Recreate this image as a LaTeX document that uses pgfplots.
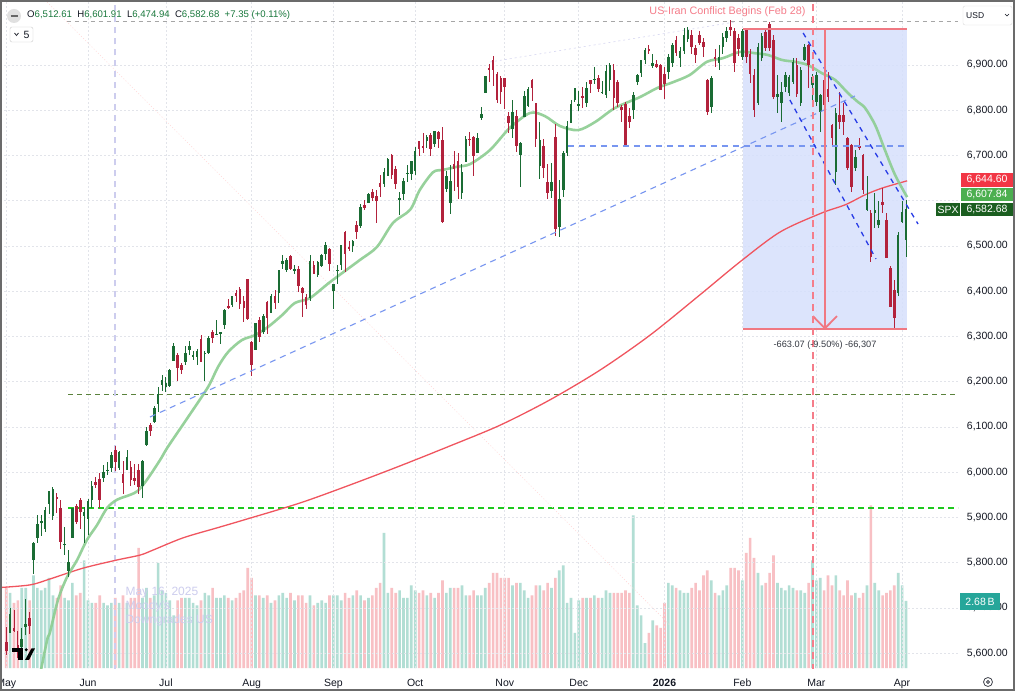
\documentclass[border=0pt]{standalone}
\usepackage{pgfplots}
\pgfplotsset{compat=1.18}
\usepackage{pgfplotstable}
\usepackage{fontspec}
\setmainfont{Liberation Sans}
\definecolor{cg}{RGB}{26,108,52}
\definecolor{cr}{RGB}{178,34,60}
\definecolor{volg}{RGB}{178,222,212}
\definecolor{volr}{RGB}{248,192,196}
\definecolor{tvtext}{RGB}{19,23,34}
\definecolor{gridc}{RGB}{226,228,234}
\definecolor{smag}{RGB}{140,205,145}
\definecolor{smar}{RGB}{240,85,95}
\definecolor{boxfill}{RGB}{214,224,252}
\definecolor{salmon}{RGB}{240,120,130}
\definecolor{lblue}{RGB}{120,150,240}
\definecolor{dblue}{RGB}{40,60,230}
\definecolor{olive}{RGB}{90,130,60}
\definecolor{bgreen}{RGB}{30,200,30}
\definecolor{lav}{RGB}{205,205,238}
\definecolor{hdrg}{RGB}{25,120,60}
\definecolor{tagred}{RGB}{242,54,69}
\definecolor{taggreen}{RGB}{76,175,80}
\definecolor{tagdark}{RGB}{27,94,32}
\definecolor{tagteal}{RGB}{38,166,154}
\definecolor{annred}{RGB}{245,125,138}

\pgfplotstableread{
i o h l c v
-21 5625 5659 5597 5604 3.2
-20 5645 5700 5645 5686 3.0
-19 5656 5695 5648 5650 2.6
-18 5618 5649 5590 5607 2.7
-17 5613 5655 5588 5631 3.2
-16 5657 5721 5640 5664 3.2
-15 5679 5691 5642 5660 2.7
-14 5807 5845 5776 5844 3.7
-13 5854 5906 5844 5886 3.2
-12 5888 5906 5860 5892 3.1
-11 5874 5924 5867 5916 3.2
-10 5929 5958 5907 5958 3.6
-9 5903 5968 5895 5963 2.9
-8 5945 5954 5909 5940 2.8
-7 5920 5939 5830 5845 3.3
-6 5841 5878 5817 5842 2.8
-5 5781 5829 5768 5802 2.7
-4 5855 5922 5855 5922 3.4
-3 5925 5930 5886 5889 2.9
-2 5939 5944 5874 5912 3.0
-1 5904 5923 5843 5912 4.3
0 5897 5940 5861 5936 2.7
1 5939 5981 5921 5970 2.6
2 5978 5990 5966 5971 2.6
3 5985 5999 5921 5939 2.9
4 5987 6017 5978 6000 2.6
5 6004 6022 5994 6006 2.5
6 6010 6044 6000 6038 2.6
7 6050 6059 6003 6022 2.8
8 6009 6046 6004 6045 2.6
9 5997 6026 5953 5977 2.9
10 6005 6050 6005 6033 2.6
11 6012 6024 5970 5982 2.8
12 5987 6018 5971 5981 2.8
13 6004 6019 5952 5967 4.8
14 5969 6028 5943 6025 2.8
15 6061 6101 6058 6092 3.2
16 6104 6108 6081 6092 2.8
17 6112 6146 6108 6141 2.9
18 6151 6188 6133 6173 4.2
19 6193 6215 6180 6205 3.1
20 6188 6210 6178 6198 3.0
21 6191 6228 6189 6227 2.7
22 6246 6285 6245 6279 2.1
23 6260 6263 6201 6230 2.7
24 6238 6242 6217 6226 2.8
25 6243 6280 6237 6263 2.8
26 6271 6290 6260 6280 2.8
27 6255 6269 6248 6259 2.6
28 6255 6273 6238 6269 2.5
29 6295 6303 6243 6244 2.7
30 6262 6268 6201 6264 3.0
31 6264 6301 6262 6297 2.9
32 6310 6315 6286 6297 3.2
33 6304 6336 6303 6305 2.8
34 6306 6310 6283 6309 2.8
35 6326 6360 6317 6359 2.9
36 6368 6382 6360 6363 2.8
37 6370 6390 6365 6389 2.7
38 6397 6402 6376 6390 2.8
39 6404 6410 6361 6371 3.0
40 6378 6390 6332 6362 3.1
41 6427 6427 6337 6339 4.0
42 6288 6291 6212 6238 3.6
43 6271 6330 6271 6330 2.9
44 6337 6343 6289 6299 2.9
45 6309 6349 6306 6345 2.8
46 6376 6379 6306 6340 2.9
47 6353 6395 6353 6389 2.6
48 6389 6402 6360 6374 2.7
49 6397 6446 6375 6446 2.9
50 6461 6480 6450 6466 3.0
51 6448 6474 6442 6469 2.8
52 6478 6481 6446 6450 3.0
53 6445 6457 6439 6449 2.7
54 6449 6456 6398 6411 2.9
55 6407 6409 6343 6396 2.9
56 6387 6394 6361 6370 2.6
57 6386 6481 6378 6467 2.9
58 6457 6466 6438 6439 2.5
59 6435 6467 6431 6465 2.6
60 6456 6483 6453 6481 2.7
61 6483 6508 6469 6502 2.6
62 6494 6495 6445 6460 2.9
63 6401 6416 6360 6416 2.9
64 6444 6458 6417 6448 2.9
65 6457 6502 6446 6502 2.7
66 6531 6533 6443 6482 3.0
67 6498 6512 6489 6495 2.8
68 6500 6513 6486 6512 2.9
69 6547 6555 6515 6532 3.1
70 6544 6592 6540 6587 2.9
71 6590 6601 6580 6584 2.7
72 6596 6617 6596 6615 2.8
73 6620 6626 6600 6606 2.9
74 6611 6624 6551 6600 3.2
75 6640 6656 6609 6631 3.4
76 6637 6672 6630 6664 5.4
77 6655 6694 6655 6693 3.0
78 6701 6703 6647 6657 3.2
79 6670 6676 6626 6637 3.0
80 6605 6620 6569 6605 3.1
81 6615 6650 6602 6644 2.8
82 6661 6679 6641 6661 2.8
83 6658 6689 6645 6688 3.3
84 6665 6718 6656 6711 3.1
85 6732 6733 6699 6715 3.0
86 6722 6750 6706 6716 3.1
87 6733 6745 6716 6740 2.9
88 6746 6749 6700 6714 3.0
89 6725 6755 6719 6754 2.8
90 6752 6754 6717 6736 3.0
91 6735 6764 6551 6553 3.5
92 6626 6665 6620 6654 3.0
93 6594 6679 6570 6644 3.2
94 6682 6711 6621 6671 3.2
95 6687 6706 6604 6630 3.2
96 6617 6682 6604 6664 3.3
97 6685 6744 6685 6736 2.9
98 6736 6752 6722 6735 2.9
99 6740 6742 6654 6699 3.1
100 6705 6750 6705 6738 2.9
101 6784 6807 6778 6792 2.9
102 6839 6876 6839 6875 3.2
103 6893 6902 6863 6891 3.4
104 6910 6920 6854 6890 3.8
105 6880 6884 6817 6822 3.8
106 6871 6876 6814 6840 3.6
107 6871 6872 6803 6852 3.6
108 6788 6797 6750 6771 3.6
109 6759 6822 6739 6796 3.3
110 6787 6800 6708 6720 3.4
111 6701 6730 6631 6728 3.4
112 6786 6842 6786 6832 3.1
113 6809 6852 6808 6846 2.8
114 6866 6870 6821 6850 2.9
115 6815 6816 6718 6737 3.3
116 6676 6775 6647 6734 3.3
117 6722 6737 6650 6672 3.1
118 6641 6681 6604 6617 3.4
119 6622 6683 6607 6642 3.2
120 6741 6770 6522 6538 3.6
121 6541 6647 6521 6603 3.9
122 6623 6709 6608 6705 4.1
123 6706 6777 6699 6766 2.6
124 6771 6823 6771 6813 2.8
125 6823 6849 6819 6849 1.4
126 6812 6843 6799 6813 2.7
127 6830 6851 6806 6829 2.8
128 6815 6862 6808 6850 2.8
129 6866 6867 6838 6857 2.8
130 6866 6895 6858 6870 2.9
131 6871 6878 6841 6846 2.8
132 6840 6864 6836 6840 2.8
133 6834 6899 6827 6887 3.1
134 6866 6905 6842 6901 3.0
135 6889 6902 6801 6827 3.0
136 6862 6866 6808 6816 3.0
137 6807 6812 6775 6800 3.0
138 6814 6819 6720 6721 3.1
139 6788 6805 6760 6775 3.0
140 6801 6840 6781 6834 6.1
141 6863 6880 6855 6878 2.5
142 6883 6911 6874 6910 2.1
143 6910 6937 6902 6932 1.0
144 6935 6945 6925 6930 1.4
145 6898 6925 6893 6905 1.9
146 6903 6912 6894 6896 1.7
147 6901 6903 6845 6845 1.6
148 6880 6895 6825 6858 2.6
149 6885 6925 6870 6918 3.4
150 6905 6948 6895 6944 3.3
151 6955 6965 6920 6926 3.2
152 6915 6940 6895 6932 3.1
153 6930 6982 6925 6966 3.0
154 6958 6985 6950 6977 3.0
155 6966 6978 6925 6940 3.2
156 6937 6945 6905 6922 3.4
157 6966 6975 6945 6948 3.1
158 6950 6960 6918 6940 3.7
159 6867 6870 6789 6797 3.9
160 6808 6875 6795 6871 3.5
161 6918 6935 6895 6913 3.0
162 6905 6945 6890 6918 2.9
163 6940 6970 6925 6963 3.1
164 6959 6985 6950 6975 3.3
165 6985 7000 6965 6978 4.0
166 6975 6982 6885 6905 4.0
167 6960 6968 6920 6935 3.9
168 6918 6979 6910 6975 3.5
169 6978 6980 6905 6918 4.6
170 6925 6935 6860 6880 5.2
171 6878 6890 6785 6800 4.4
172 6815 6948 6812 6940 3.8
173 6915 6970 6908 6963 3.3
174 6974 6982 6930 6937 3.4
175 6990 6995 6930 6937 3.8
176 6955 6967 6825 6830 4.5
177 6830 6878 6794 6836 3.4
178 6815 6863 6775 6841 3.2
179 6852 6885 6840 6878 3.1
180 6837 6878 6832 6874 3.3
181 6863 6915 6858 6907 3.2
182 6900 6915 6830 6837 3.1
183 6815 6895 6810 6889 3.1
184 6911 6946 6908 6940 3.0
185 6944 6946 6850 6900 3.4
186 6856 6880 6815 6874 4.3
187 6819 6885 6810 6878 3.5
188 6797 6836 6753 6834 3.6
189 6867 6870 6810 6812 3.1
190 6848 6885 6818 6830 3.7
191 6767 6770 6720 6738 3.3
192 6664 6806 6634 6793 3.7
193 6789 6840 6759 6775 3.1
194 6789 6815 6745 6775 2.9
195 6738 6740 6668 6672 3.5
196 6723 6725 6620 6631 2.9
197 6672 6712 6665 6697 3.0
198 6720 6738 6712 6718 2.8
199 6701 6703 6615 6624 3.0
200 6580 6655 6578 6605 3.3
201 6572 6579 6465 6476 6.5
202 6573 6617 6540 6580 3.4
203 6546 6600 6540 6557 3.1
204 6598 6628 6572 6590 2.9
205 6557 6572 6473 6473 3.0
206 6451 6455 6366 6366 3.1
207 6403 6426 6318 6340 3.3
208 6395 6530 6390 6524 3.8
209 6554 6600 6550 6575.33 3.3
210 6512.61 6601.91 6474.94 6582.68 2.68
}\spx

\newcommand{\tvfont}{\fontsize{10.5}{12}\selectfont}

\pgfplotsset{
  candle/.style n args={2}{only marks, mark=*, mark size=0pt,
    mark options={draw opacity=0, fill opacity=0},
    /pgfplots/error bars/y dir=both,
    /pgfplots/error bars/y explicit,
    /pgfplots/error bars/error mark=none,
    /pgfplots/error bars/error bar style={draw=#1, line width=#2, solid, draw opacity=1}},
}

\begin{document}
\begin{tikzpicture}[x=1pt,y=1pt]
\useasboundingbox (0,0) rectangle (1015,691);
\fill[white] (0,0) rectangle (1015,691);

% ---------------- volume axis
\begin{axis}[at={(0pt,23pt)}, anchor=south west, scale only axis,
  width=958pt, height=668pt,
  xmin=-22.593, xmax=223.36, ymin=0, ymax=26.72, hide axis]
\addplot[ybar, bar width=0.68, bar shift=0pt, fill=volg, draw=none,
  restrict expr to domain={\thisrow{c}-\thisrow{o}}{0:100000}]
  table[x=i, y=v] {\spx};
\addplot[ybar, bar width=0.68, bar shift=0pt, fill=volr, draw=none,
  restrict expr to domain={\thisrow{c}-\thisrow{o}}{-100000:-0.001}]
  table[x=i, y=v] {\spx};
\end{axis}

% ---------------- price axis
\begin{axis}[at={(0pt,23pt)}, anchor=south west, scale only axis,
  width=958pt, height=668pt,
  xmin=-22.593, xmax=223.36, ymin=5567.4, ymax=7043.6,
  axis line style={draw=none}, tick style={draw=none}, major tick length=0pt,
  ytick={5600,5700,...,6900},
  yticklabels={{5,600.00},{5,700.00},{5,800.00},{5,900.00},{6,000.00},{6,100.00},{6,200.00},{6,300.00},{6,400.00},{6,500.00},{},{6,700.00},{6,800.00},{6,900.00}},
  yticklabel pos=right,
  yticklabel style={anchor=east, xshift=50pt, inner sep=0pt, font=\tvfont, text=tvtext},
  xtick={-21,0,20,42,63,84,107,126,148,168,187,209},
  xticklabels={May,Jun,Jul,Aug,Sep,Oct,Nov,Dec,\textbf{2026},Feb,Mar,Apr},
  xticklabel style={anchor=base, yshift=-18pt, inner sep=0pt, font=\tvfont, text=tvtext},
  grid=major, major grid style={draw=gridc, dash pattern=on 2pt off 2pt, line width=0.6pt},
]
% range box
\addplot[draw=none, fill=boxfill, fill opacity=0.85] coordinates {(168.2,6316.6) (210.3,6316.6) (210.3,6979.7) (168.2,6979.7)} -- cycle;
% horizontal reference lines
\addplot[gray!70, line width=0.8pt, dash pattern=on 4pt off 4pt] coordinates {(-5.4,6997) (223.4,6997)};
\addplot[olive, line width=0.9pt, dash pattern=on 5pt off 4pt] coordinates {(-5.1,6173) (223.4,6173)};
\addplot[bgreen, line width=1.3pt, dash pattern=on 6pt off 4pt] coordinates {(-5.1,5921) (223.4,5921)};
% faint diagonals
\addplot[red!15, line width=0.6pt, dash pattern=on 1pt off 2pt] coordinates {(-11.04,7043.6) (149.4,5662.4)};
\addplot[lav!80, line width=0.6pt, dash pattern=on 2pt off 3pt] coordinates {(103.2,6906.6) (166.1,6995)};
% Moody's marker
\addplot[lav, line width=1.3pt, dash pattern=on 6pt off 5pt] coordinates {(6.93,5560) (6.93,7050)};
% moving averages
\addplot[smar, line width=1.3pt, smooth] coordinates {(-23,5745) (-14.9,5751) (-9.8,5764) (-1.3,5788) (7.4,5806) (13.4,5817) (16.7,5828) (24.4,5855) (33.1,5877) (39.8,5894) (54.4,5932) (67.3,5972) (80.1,6014) (92.9,6058) (105.8,6104) (118.6,6160) (131.5,6226) (144.3,6303) (157.1,6392) (167.4,6465) (177.7,6531) (188.4,6573) (194.4,6591) (199.5,6613) (203.9,6628) (210.3,6644)};
\addplot[smag, line width=2.6pt, smooth, opacity=0.9] coordinates {(-13.1,5519) (-10.5,5629) (-9.8,5645) (-7.7,5718) (-5.4,5768) (-2.8,5806) (-0.3,5850) (2.3,5883) (4.9,5921) (7.4,5939) (10.8,5950) (12.8,5959) (15.1,5983) (18.5,6027) (20.5,6056) (25.7,6122) (30.8,6188) (33.4,6233) (36.0,6266) (39.5,6292) (42.9,6303) (46.2,6321) (49.8,6347) (53.1,6374) (57.0,6385) (62.1,6420) (69.8,6469) (74.2,6498) (78.3,6551) (82.7,6580) (85.2,6624) (88.6,6663) (91.1,6668) (94.7,6675) (98.1,6681) (103.2,6712) (108.3,6761) (113.5,6794) (117.3,6787) (121.2,6765) (125.8,6756) (130.2,6774) (135.3,6805) (141.7,6829) (146.1,6849) (150.2,6862) (154.5,6878) (158.9,6907) (163.0,6915) (167.4,6929) (171.2,6926) (174.6,6922) (178.2,6911) (181.5,6907) (184.8,6900) (188.4,6882) (191.8,6867) (195.1,6838) (197.7,6818) (199.5,6805) (202.1,6767) (204.6,6712) (207.2,6657) (210.3,6608)};
% candles: wicks
\addplot[candle={cg}{0.9pt}, restrict expr to domain={\thisrow{c}-\thisrow{o}}{0:100000}]
  table[x=i, y expr={(\thisrow{h}+\thisrow{l})/2}, y error expr={(\thisrow{h}-\thisrow{l})/2}] {\spx};
\addplot[candle={cr}{0.9pt}, restrict expr to domain={\thisrow{c}-\thisrow{o}}{-100000:-0.001}]
  table[x=i, y expr={(\thisrow{h}+\thisrow{l})/2}, y error expr={(\thisrow{h}-\thisrow{l})/2}] {\spx};
% candles: bodies
\addplot[candle={cg}{2.6pt}, restrict expr to domain={\thisrow{c}-\thisrow{o}}{0:100000}]
  table[x=i, y expr={(\thisrow{o}+\thisrow{c})/2}, y error expr={max(abs(\thisrow{c}-\thisrow{o})/2,1)}] {\spx};
\addplot[candle={cr}{2.6pt}, restrict expr to domain={\thisrow{c}-\thisrow{o}}{-100000:-0.001}]
  table[x=i, y expr={(\thisrow{o}+\thisrow{c})/2}, y error expr={max(abs(\thisrow{c}-\thisrow{o})/2,1)}] {\spx};
% trend lines
\addplot[lblue, line width=1.1pt, dash pattern=on 6pt off 5pt] coordinates {(15.9,6122) (196.9,6831.5)};
\addplot[lblue, line width=1.1pt, dash pattern=on 6pt off 5pt] coordinates {(123.2,6721) (209.8,6721)};
\addplot[dblue, line width=1.3pt, dash pattern=on 5pt off 5pt] coordinates {(183.6,6970.7) (213.1,6548.6)};
\addplot[dblue, line width=1.3pt, dash pattern=on 5pt off 5pt] coordinates {(180.2,6822.7) (202.3,6471.3)};
% box borders and arrow
\addplot[salmon, line width=2.2pt] coordinates {(168.2,6979.7) (210.3,6979.7)};
\addplot[salmon, line width=2.2pt] coordinates {(168.2,6316.6) (210.3,6316.6)};
\addplot[salmon, line width=1.8pt] coordinates {(189.2,6979.7) (189.2,6318)};
\addplot[salmon, line width=1.8pt] coordinates {(186.1,6345) (189.2,6318) (192.3,6345)};
% Feb 28 marker
\addplot[annred, line width=1.6pt, dash pattern=on 7pt off 5pt] coordinates {(186.1,5560) (186.1,7050)};
\end{axis}

% ---------------- annotations (pixel layout, y = 691 - ypx)
\node[font=\fontsize{10.8}{12}\selectfont, text=annred] at (727.5,679) {US-Iran Conflict Begins (Feb 28)};
\node[font=\fontsize{9.2}{11}\selectfont, text=tvtext!85] at (825,346) {-663.07 (-9.50\%) -66,307};
\node[font=\fontsize{12}{14}\selectfont, text=lav, anchor=base west] at (122,95) {May 16, 2025};
\node[font=\fontsize{12}{14}\selectfont, text=lav, anchor=base west] at (122,81) {Moody's};
\node[font=\fontsize{12}{14}\selectfont, text=lav, anchor=base west] at (122,67) {Downgrades US};

% header
\fill[black!12] (14,675) circle (7);
\draw[black!60, line width=1.6pt] (10.5,675) -- (17.5,675);
\node[anchor=base west, inner sep=0pt, font=\fontsize{9.6}{11}\selectfont] at (27,673) {\color{tvtext}O\color{hdrg}6,512.61\ \ \color{tvtext}H\color{hdrg}6,601.91\ \ \color{tvtext}L\color{hdrg}6,474.94\ \ \color{tvtext}C\color{hdrg}6,582.68\ \ +7.35 (+0.11\%)};
\draw[black!20, rounded corners=2pt, fill=white] (10,649) rectangle (33,664);
\draw[tvtext, line width=0.7pt] (14.5,658) -- (16.5,655.5) -- (18.5,658);
\node[font=\tvfont, text=tvtext, inner sep=0pt] at (26.5,656.5) {5};

% USD box
\draw[black!15, rounded corners=2pt, fill=white] (963,666) rectangle (1012,685);
\node[anchor=west, inner sep=0pt, font=\fontsize{8.5}{10}\selectfont, text=tvtext] at (966,675.5) {USD};
\draw[tvtext, line width=0.6pt] (1005,677) -- (1007,675) -- (1009,677);

% price tags
\fill[tagred] (961,504) rectangle (1013,518);
\node[text=white, font=\tvfont, inner sep=0pt] at (987,511) {6,644.60};
\fill[taggreen] (961,490) rectangle (1013,503);
\node[text=white, font=\tvfont, inner sep=0pt] at (987,496.5) {6,607.84};
\fill[tagdark] (936,475) rectangle (960,488);
\node[text=white, font=\tvfont, inner sep=0pt] at (948,481.5) {SPX};
\fill[tagdark] (961,475) rectangle (1013,488);
\node[text=white, font=\tvfont, inner sep=0pt] at (987,481.5) {6,582.68};
\fill[tagteal] (960,81) rectangle (1000,98);
\node[text=white, font=\tvfont, inner sep=0pt] at (980,89.5) {2.68\,B};

% gear icon
\draw[tvtext!80, line width=0.8pt] (988,9) circle (4.5);
\draw[tvtext!80, line width=0.8pt] (988,9) circle (1.5);

% logo
\fill[black] (11.7,39) rectangle (23.3,42.7);
\fill[black] (18.3,31) rectangle (23.3,42.7);
\fill[black] (26.2,41.2) circle (1.6);
\fill[black] (25,31) -- (29,31) -- (35,42.7) -- (31.5,42.7) -- cycle;

% frame
\draw[black!58, line width=1.6pt] (0.8,0.8) rectangle (1014.2,690.2);
\end{tikzpicture}
\end{document}
